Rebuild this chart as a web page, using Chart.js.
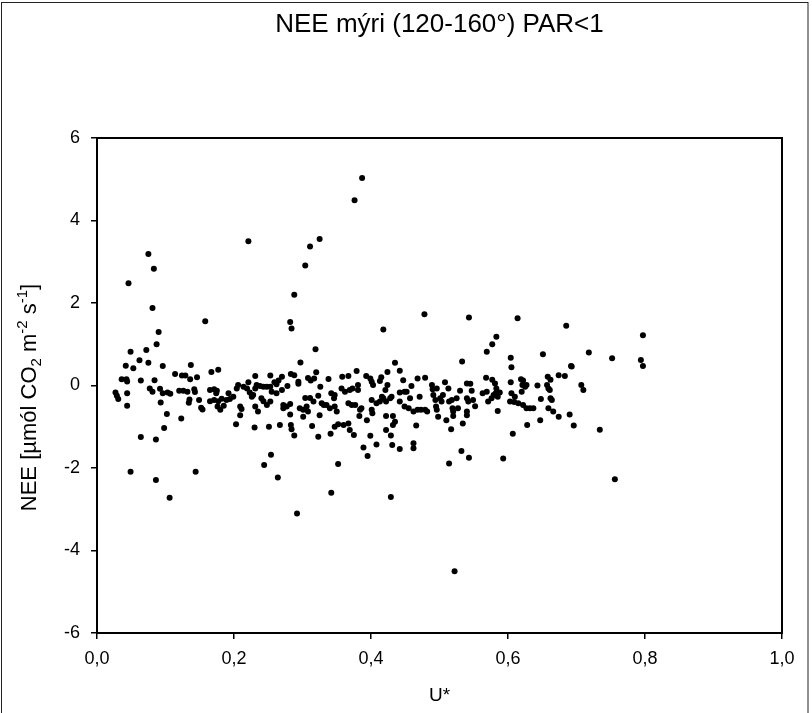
<!DOCTYPE html>
<html>
<head>
<meta charset="utf-8">
<script src="https://cdn.jsdelivr.net/npm/chart.js@4.4.1/dist/chart.umd.min.js"></script>
<style>
  html, body { margin: 0; padding: 0; background: #fff; }
  #wrap { width: 812px; height: 713px; }
</style>
</head>
<body>
<div id="wrap"><canvas id="c" width="812" height="713"></canvas></div>
<script>
const FONT = "'Liberation Sans', Arial, Helvetica, sans-serif";

const chartTitle = 'NEE mýri (120-160°) PAR<1';
const xAxisTitle = 'U*';
// [text, level]: 0 normal, -1 subscript, 1 superscript
const yAxisTitleParts = [['NEE [µmól CO', 0], ['2', -1], [' m', 0], ['-2', 1], [' s', 0], ['-1', 1], [']', 0]];

const xTickValues = [0, 0.2, 0.4, 0.6, 0.8, 1.0];
const xTickLabels = ['0,0', '0,2', '0,4', '0,6', '0,8', '1,0'];
const yTickValues = [-6, -4, -2, 0, 2, 4, 6];
const yTickLabels = ['-6', '-4', '-2', '0', '2', '4', '6'];

// friction velocity U* (m/s)
const uStar = [
  0.046, 0.075, 0.083, 0.081, 0.090, 0.087, 0.049, 0.072, 0.042, 0.053, 0.062, 0.075, 0.096,
  0.158, 0.137, 0.167, 0.177, 0.221, 0.311, 0.325, 0.304, 0.288, 0.282, 0.284, 0.319, 0.297,
  0.036, 0.043, 0.044, 0.064, 0.084, 0.114, 0.124, 0.129, 0.136, 0.146, 0.231, 0.253, 0.270,
  0.259, 0.265, 0.283, 0.288, 0.294, 0.308, 0.317, 0.320, 0.338,
  0.387, 0.376, 0.418, 0.478, 0.543, 0.614, 0.685, 0.583, 0.577, 0.569, 0.604, 0.605, 0.651,
  0.692, 0.533, 0.435, 0.424, 0.442, 0.379, 0.367, 0.358, 0.393, 0.399, 0.415, 0.468, 0.479,
  0.508, 0.540, 0.545, 0.568, 0.577, 0.604, 0.619, 0.622, 0.658, 0.662, 0.674, 0.683, 0.643,
  0.797, 0.718, 0.752, 0.794, 0.797, 0.693, 0.707, 0.710, 0.690, 0.696, 0.734, 0.756, 0.292, 0.522,
  0.027, 0.029, 0.031, 0.044, 0.044, 0.077, 0.081, 0.092, 0.096, 0.103, 0.107, 0.093, 0.102,
  0.098, 0.064, 0.086, 0.049, 0.086, 0.106, 0.144, 0.123, 0.120, 0.126, 0.132, 0.135, 0.134,
  0.142, 0.143, 0.149, 0.152, 0.154,
  0.165, 0.171, 0.175, 0.174, 0.165, 0.171, 0.177, 0.176, 0.180, 0.185, 0.182, 0.189, 0.192,
  0.199, 0.194, 0.204, 0.206, 0.214, 0.221, 0.209, 0.211, 0.203, 0.209,
  0.223, 0.219, 0.226, 0.228, 0.231, 0.233, 0.238, 0.243, 0.248, 0.253, 0.231, 0.235, 0.243,
  0.240, 0.248, 0.253, 0.230, 0.251, 0.267, 0.254, 0.244, 0.264, 0.262, 0.255, 0.262, 0.270,
  0.272, 0.277, 0.282, 0.272, 0.282, 0.283, 0.284, 0.288, 0.278, 0.294, 0.296, 0.301, 0.306,
  0.308, 0.301, 0.304, 0.311, 0.316, 0.312, 0.326, 0.323, 0.328, 0.325, 0.314, 0.323, 0.331,
  0.335, 0.340, 0.341, 0.352, 0.342, 0.352,
  0.342, 0.347, 0.346, 0.347, 0.350, 0.347, 0.357, 0.362, 0.369, 0.373, 0.381, 0.381, 0.367,
  0.372, 0.377, 0.360, 0.367, 0.369, 0.375, 0.384, 0.386, 0.383, 0.394, 0.399, 0.395, 0.389,
  0.401, 0.403, 0.401, 0.402, 0.401, 0.408, 0.413, 0.416, 0.413, 0.408, 0.418, 0.421, 0.424,
  0.422, 0.428, 0.430, 0.422, 0.422, 0.429, 0.431, 0.432, 0.435, 0.432, 0.429, 0.442,
  0.447, 0.442, 0.449, 0.452, 0.442, 0.449, 0.455, 0.457, 0.459, 0.462, 0.468, 0.473, 0.479,
  0.482, 0.466, 0.462, 0.462, 0.471,
  0.489, 0.490, 0.496, 0.491, 0.494, 0.495, 0.496, 0.498, 0.501, 0.503, 0.505, 0.510, 0.517,
  0.513, 0.514, 0.518, 0.519, 0.520, 0.520, 0.525, 0.527, 0.530, 0.532, 0.514, 0.543, 0.534,
  0.547, 0.540, 0.542, 0.540, 0.540, 0.549, 0.552, 0.563, 0.569, 0.571, 0.576, 0.579, 0.582,
  0.585, 0.581, 0.583, 0.588, 0.585, 0.593,
  0.605, 0.603, 0.609, 0.610, 0.607, 0.615, 0.621, 0.625, 0.620, 0.627, 0.622, 0.627, 0.632,
  0.637, 0.628, 0.648, 0.647, 0.657, 0.659, 0.661, 0.662, 0.664, 0.659, 0.666, 0.674
];

// net ecosystem exchange (µmol CO2 m-2 s-1), same order as uStar
const nee = [
  2.48, 3.19, 2.83, 1.88, 1.30, 1.00, 0.82, 0.86, 0.48, 0.42, 0.61, 0.55, 0.47,
  1.56, 0.50, 0.33, 0.38, 3.50, 3.37, 3.55, 2.91, 2.20, 1.54, 1.38, 0.88, 0.56,
  0.15, 0.15, 0.10, 0.12, 0.13, 0.28, 0.24, 0.24, 0.15, 0.20, 0.23, 0.24, 0.21,
  0.08, 0.12, 0.28, 0.25, 0.09, 0.18, 0.17, 0.32, 0.16,
  5.03, 4.49, 1.36, 1.73, 1.65, 1.63, 1.45, 1.18, 1.00, 0.82, 0.67, 0.44, 0.76,
  0.47, 0.58, 0.55, 0.33, 0.36, 0.35, 0.23, 0.21, 0.23, 0.17, 0.20, 0.17, 0.19,
  0.08, 0.05, 0.04, 0.19, 0.14, 0.08, 0.15, 0.12, 0.21, 0.14, 0.25, 0.23, 0.00,
  1.22, 0.80, 0.66, 0.62, 0.47, 0.46, 0.01, -0.11, -0.70, -0.97, -1.07, -2.27, -3.10, -4.50,
  -0.17, -0.25, -0.33, -0.19, -0.49, -0.07, -0.15, -0.08, -0.19, -0.17, -0.20, -0.41, -0.69,
  -1.03, -1.25, -1.31, -2.09, -2.29, -2.72, -2.09, -0.80, -0.13, -0.13, -0.15, -0.34, -0.42,
  -0.09, -0.16, -0.35, -0.54, -0.58,
  -0.11, -0.09, -0.13, -0.19, -0.38, -0.35, -0.38, -0.51, -0.59, -0.49, -0.32, -0.35, -0.19,
  -0.27, -0.33, -0.07, 0.01, -0.03, 0.08, -0.51, -0.57, -0.94, -0.72,
  -0.17, -0.07, -0.27, -0.23, -0.07, 0.01, -0.01, -0.03, -0.03, -0.03, -0.51, -0.63, -0.38,
  -0.31, -0.47, -0.39, -1.02, -1.00, -0.96, -1.68, -1.93, -2.23, 0.03, -0.15, -0.19, -0.11,
  -0.47, -0.51, -0.45, -0.55, -0.70, -0.96, -1.06, -1.21, -0.01, 0.04, -0.55, -0.59, -0.51,
  -0.63, -0.76, -0.30, -0.30, -0.39, 0.12, -0.03, -0.25, -0.43, -0.72, -0.98, -1.24, -0.47,
  -0.47, -0.55, -1.17, -0.94, -2.60, -1.90,
  -0.19, -0.23, -0.31, -0.51, -0.63, -1.00, -0.07, -0.15, -0.11, -0.07, 0.01, -0.11, -0.43,
  -0.47, -0.47, -0.96, -0.92, -1.08, -1.20, -0.59, -0.55, -0.74, -0.84, -1.22, -1.71, -1.50,
  0.09, 0.01, -0.59, -0.67, -0.35, -0.43, -0.39, -0.27, 0.11, -1.43, -0.31, -0.11, 0.01,
  -0.39, -0.31, -0.27, -0.74, -1.08, -1.21, -1.44, -0.74, -0.88, -0.96, -2.70, -1.54,
  0.13, -0.17, -0.15, -0.15, -0.39, -0.51, -0.55, -0.31, -0.01, -0.63, -0.59, -0.59, -0.59,
  -0.63, -0.97, -1.40, -1.52, -0.27,
  0.01, -0.09, -0.07, -0.23, -0.35, -0.51, -0.59, -0.76, -0.31, -0.39, -0.23, -0.84, -1.06,
  -0.07, -0.39, -0.35, -0.55, -0.63, -0.74, -0.31, -0.55, -0.13, -1.59, -1.89, -1.75, -0.92,
  -0.13, -0.31, -0.39, -0.63, -0.72, -0.35, -0.50, -0.19, -0.15, -0.39, -0.31, -0.23, -0.19,
  -0.27, 0.05, -0.07, -0.17, -0.62, -1.77,
  -0.19, -0.39, -0.40, -0.27, -1.17, -0.43, 0.01, -0.03, -0.15, 0.01, -0.47, -0.55, -0.55,
  -0.55, -0.96, -0.33, -0.84, 0.01, -0.07, -0.11, -0.31, -0.35, -0.55, -0.63, -0.76
];

const points = uStar.map((u, i) => ({ x: u, y: nee[i] }));

// plot frame plus the thin outer border of the figure
const framePlugin = {
  id: 'frame',
  afterDraw(chart) {
    const { ctx, chartArea: a } = chart;
    ctx.save();
    ctx.strokeStyle = '#000';
    ctx.lineWidth = 2;
    ctx.strokeRect(a.left, a.top, a.right - a.left, a.bottom - a.top);
    ctx.lineWidth = 1;
    ctx.strokeStyle = '#222';
    ctx.strokeRect(1.5, 2.5, 806.5, 760);
    ctx.restore();
  }
};

// rotated y-axis title with sub- and superscripts
const yTitlePlugin = {
  id: 'yTitleRich',
  afterDraw(chart) {
    const ctx = chart.ctx;
    const main = 22, small = 15;
    ctx.save();
    let total = 0;
    const widths = yAxisTitleParts.map(([t, lvl]) => {
      ctx.font = `${lvl ? small : main}px ${FONT}`;
      const w = ctx.measureText(t).width;
      total += w;
      return w;
    });
    const a = chart.chartArea;
    ctx.translate(28, (a.top + a.bottom) / 2 + 12);
    ctx.rotate(-Math.PI / 2);
    ctx.fillStyle = '#000';
    ctx.textBaseline = 'alphabetic';
    const base = main * 0.36;
    let x = -total / 2;
    yAxisTitleParts.forEach(([t, lvl], i) => {
      ctx.font = `${lvl ? small : main}px ${FONT}`;
      const dy = lvl === 1 ? base - main * 0.42 : (lvl === -1 ? base + main * 0.22 : base);
      ctx.fillText(t, x, dy);
      x += widths[i];
    });
    ctx.restore();
  }
};

new Chart(document.getElementById('c'), {
  type: 'scatter',
  data: {
    datasets: [{
      data: points,
      pointStyle: 'circle',
      pointRadius: 3,
      pointHoverRadius: 3,
      pointBackgroundColor: '#000',
      pointBorderWidth: 0
    }]
  },
  options: {
    responsive: false,
    animation: false,
    devicePixelRatio: 1,
    layout: { padding: { left: 0, right: 30, top: 0, bottom: 0 } },
    plugins: {
      legend: { display: false },
      tooltip: { enabled: false },
      title: {
        display: true,
        text: chartTitle,
        fullSize: false,
        color: '#000',
        font: { family: FONT, size: 26, weight: 'normal' },
        padding: { top: 9, bottom: 97.8 }
      }
    },
    scales: {
      x: {
        type: 'linear',
        min: 0,
        max: 1,
        afterBuildTicks: s => { s.ticks = xTickValues.map(v => ({ value: v })); },
        afterFit: s => { s.height = 80; },
        ticks: {
          color: '#000',
          font: { family: FONT, size: 18 },
          padding: 9,
          maxRotation: 0,
          callback: (v, i) => xTickLabels[i]
        },
        grid: { display: true, drawOnChartArea: false, drawTicks: true, tickLength: 6, tickColor: '#000', lineWidth: 1.5 },
        border: { display: false },
        title: {
          display: true,
          text: xAxisTitle,
          color: '#000',
          font: { family: FONT, size: 19 },
          padding: { top: 0, bottom: 6 }
        }
      },
      y: {
        type: 'linear',
        min: -6,
        max: 6,
        afterBuildTicks: s => { s.ticks = yTickValues.map(v => ({ value: v })); },
        afterFit: s => { s.width = 97; },
        ticks: {
          color: '#000',
          font: { family: FONT, size: 18 },
          padding: 11,
          callback: (v, i) => yTickLabels[i]
        },
        grid: { display: true, drawOnChartArea: false, drawTicks: true, tickLength: 6, tickColor: '#000', lineWidth: 1.5 },
        border: { display: false },
        title: { display: false }
      }
    }
  },
  plugins: [framePlugin, yTitlePlugin]
});
</script>
</body>
</html>
